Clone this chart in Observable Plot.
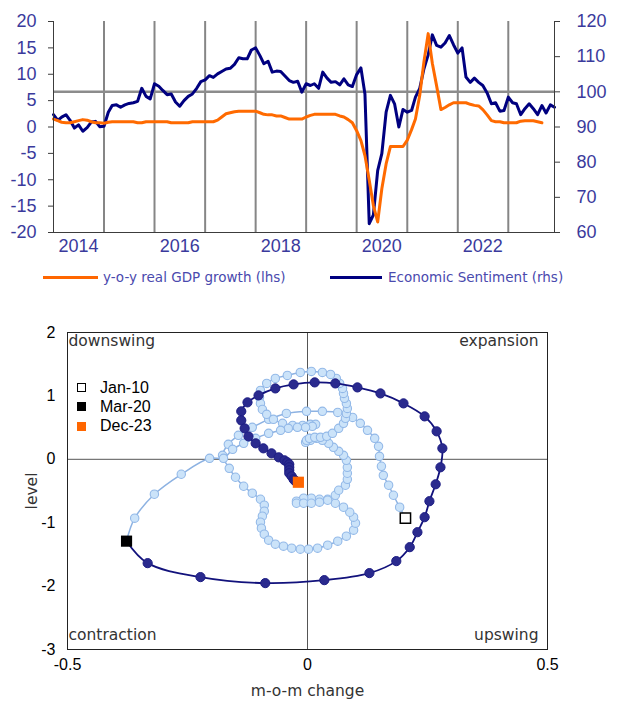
<!DOCTYPE html>
<html>
<head>
<meta charset="utf-8">
<script src="https://cdn.jsdelivr.net/npm/d3@7"></script>
<script src="https://cdn.jsdelivr.net/npm/@observablehq/plot@0.6"></script>
<style>
  html, body { margin: 0; padding: 0; background: #fff; }
  body { width: 617px; height: 702px; overflow: hidden; font-family: "Liberation Sans", Arial, sans-serif; }
  #top { height: 258px; }
  #legend1 { position: relative; height: 36px; font-family: "DejaVu Sans", sans-serif; font-size: 13.5px; color: #4a4aae; }
  #legend1 .sw { position: absolute; height: 3px; top: 18px; }
  #legend1 .lb { position: absolute; top: 10px; line-height: 18px; white-space: nowrap; }
  #bottom { position: relative; height: 408px; }
  #legend2 { position: absolute; left: 77px; top: 84px; font-family: "Liberation Sans", Arial, sans-serif; font-size: 16px; color: #000; }
  #legend2 .row { height: 19.3px; display: flex; align-items: center; }
  #legend2 .sq { width: 9px; height: 9px; box-sizing: border-box; margin-right: 14px; }
</style>
</head>
<body>
<div id="top"></div>
<div id="legend1">
  <span class="sw" style="left:43px;width:55px;background:#ff6600"></span>
  <span class="lb" style="left:103px">y-o-y real GDP growth (lhs)</span>
  <span class="sw" style="left:330px;width:52px;background:#000080"></span>
  <span class="lb" style="left:388px">Economic Sentiment (rhs)</span>
</div>
<div id="bottom">
  <div id="legend2">
    <div class="row"><span class="sq" style="border:1.3px solid #000;background:#fff"></span>Jan-10</div>
    <div class="row"><span class="sq" style="background:#000"></span>Mar-20</div>
    <div class="row"><span class="sq" style="background:#ff6600"></span>Dec-23</div>
  </div>
</div>
<script>
// ---------- Top chart data (monthly, starting Jan 2014) ----------
const startYear = 2014;
const sentiment = [
  93.5, 91.9, 92.8, 93.5, 91.9, 89.7, 90.6, 88.8, 89.8, 91.4, 91.6, 90.1,
  90.2, 94.2, 96.1, 96.3, 95.6, 96.3, 96.7, 96.9, 97.3, 101.0, 98.7, 98.0,
  102.3, 101.6, 100.4, 99.2, 99.4, 97.1, 95.9, 97.5, 98.7, 99.4, 101.0, 102.9,
  103.4, 104.6, 104.1, 105.1, 105.8, 106.5, 106.7, 107.8, 109.7, 109.4, 109.4, 111.9,
  112.5, 110.3, 108.0, 108.7, 105.6, 105.9, 105.8, 104.5, 103.2, 102.7, 103.0, 99.9,
  102.3, 101.8, 102.3, 101.0, 105.6, 103.9, 102.7, 102.9, 102.0, 103.7, 102.0, 101.5,
  104.9, 106.8, 99.4, 62.5, 65.0, 77.6, 82.4, 94.2, 99.0, 96.6, 90.0, 95.0,
  94.2, 94.7, 98.5, 101.0, 106.5, 110.5, 116.2, 113.2, 112.7, 113.9, 116.0, 113.4,
  111.0, 112.5, 104.2, 102.7, 103.9, 102.7, 101.8, 99.7, 96.6, 96.9, 94.5, 94.7,
  98.5, 96.9, 96.6, 93.5, 95.2, 96.6, 95.2, 93.5, 96.1, 94.0, 96.3, 95.6
];
const gdpGrowth = [
  1.5, 1.2, 0.9, 0.8, 0.8, 1.0, 1.2, 1.4, 1.3, 1.0, 0.8, 0.8,
  0.7, 0.9, 1.0, 1.0, 1.0, 1.0, 1.0, 1.0, 0.8, 0.8, 1.0, 1.0,
  1.0, 1.0, 1.0, 1.0, 0.8, 0.8, 0.8, 0.8, 0.8, 1.0, 1.0, 1.0,
  1.0, 1.0, 1.0, 1.3, 1.9, 2.5, 2.7, 2.9, 3.0, 3.0, 3.0, 3.0,
  3.0, 2.7, 2.4, 2.3, 2.3, 2.1, 2.1, 1.8, 1.5, 1.5, 1.5, 1.5,
  1.9, 2.2, 2.4, 2.4, 2.4, 2.4, 2.4, 2.4, 2.1, 1.9, 1.4, 0.8,
  -0.7, -2.6, -5.4, -10.1, -14.9, -18.0, -11.7, -7.0, -3.7, -3.7, -3.7, -3.7,
  -2.5, -0.5, 1.5, 6.0, 12.3, 17.7, 12.1, 7.8, 3.3, 3.7, 4.2, 4.6,
  4.6, 4.6, 4.6, 4.3, 4.1, 4.0, 3.3, 2.3, 1.2, 1.0, 1.0, 0.8,
  0.8, 0.8, 0.8, 1.1, 1.2, 1.2, 1.2, 1.0, 0.8
];
const lhsTicks = [-20, -15, -10, -5, 0, 5, 10, 15, 20];
const rhsTicks = [60, 70, 80, 90, 100, 110, 120];
const yearLabels = [2014, 2016, 2018, 2020, 2022];
const gridYears = [2015, 2016, 2017, 2018, 2019, 2020, 2021, 2022, 2023];
const sentimentReference = 100;

// ---------- Bottom chart data (cycle clock) ----------
// Jan-10 .. Feb-20 (history)
const changeHistory = [
  0.204, 0.192, 0.179, 0.169, 0.158, 0.154, 0.150, 0.148, 0.140, 0.125, 0.110, 0.094,
  0.063, 0.031, -0.002, -0.044, -0.081, -0.115, -0.144, -0.165, -0.177, -0.163, -0.150, -0.133,
  -0.115, -0.098, -0.090, -0.090, -0.094, -0.098, -0.096, -0.090, -0.081, -0.067, -0.050, -0.033,
  -0.015, 0.002, 0.021, 0.042, 0.063, 0.081, 0.096, 0.100, 0.096, 0.088, 0.075, 0.058,
  0.042, 0.025, 0.008, -0.008, -0.023, -0.023, -0.008, 0.008, 0.025, 0.042, 0.058, 0.065,
  0.079, 0.083, 0.083, 0.083, 0.081, 0.075, 0.065, 0.054, 0.044, 0.031, 0.019, 0.006,
  -0.004, -0.002, 0.004, 0.015, 0.027, 0.040, 0.052, 0.065, 0.075, 0.079, 0.081, 0.083,
  0.081, 0.077, 0.075, 0.073, 0.067, 0.060, 0.048, 0.031, 0.008, -0.015, -0.042, -0.067,
  -0.085, -0.098, -0.100, -0.098, -0.094, -0.085, -0.071, -0.052, -0.031, -0.010, 0.006, 0.017,
  0.010, -0.004, -0.021, -0.040, -0.056, -0.081, -0.108, -0.133, -0.156, -0.175, -0.204, -0.263,
  -0.319, -0.360
];
const levelHistory = [
  -0.929, -0.756, -0.567, -0.409, -0.252, -0.110, 0.047, 0.205, 0.331, 0.457, 0.567, 0.661,
  0.740, 0.756, 0.756, 0.724, 0.630, 0.504, 0.378, 0.236, 0.063, -0.142, -0.283, -0.425,
  -0.535, -0.630, -0.724, -0.819, -0.898, -0.992, -1.087, -1.181, -1.276, -1.339, -1.370, -1.402,
  -1.417, -1.417, -1.402, -1.354, -1.291, -1.213, -1.118, -1.008, -0.913, -0.835, -0.756, -0.693,
  -0.630, -0.630, -0.614, -0.614, -0.661, -0.693, -0.693, -0.693, -0.677, -0.646, -0.567, -0.488,
  -0.409, -0.315, -0.220, -0.126, -0.016, 0.063, 0.126, 0.189, 0.252, 0.299, 0.331, 0.299,
  0.268, 0.299, 0.331, 0.346, 0.346, 0.362, 0.409, 0.488, 0.567, 0.646, 0.724, 0.803,
  0.882, 0.961, 1.039, 1.118, 1.197, 1.276, 1.339, 1.370, 1.386, 1.370, 1.323, 1.276,
  1.197, 1.087, 0.976, 0.882, 0.787, 0.709, 0.630, 0.567, 0.535, 0.535, 0.551, 0.551,
  0.520, 0.504, 0.504, 0.488, 0.457, 0.409, 0.331, 0.252, 0.157, 0.016, 0.016, -0.236,
  -0.551, -0.929
];
// Mar-20 .. Dec-23 (recent)
const changeRecent = [
  -0.377, -0.333, -0.223, -0.088, 0.035, 0.129, 0.185, 0.213, 0.229, 0.244, 0.254, 0.267,
  0.277, 0.281, 0.269, 0.244, 0.200, 0.152, 0.104, 0.058, 0.015, -0.029, -0.067, -0.102,
  -0.125, -0.138, -0.138, -0.131, -0.123, -0.108, -0.092, -0.075, -0.060, -0.048, -0.042, -0.038,
  -0.038, -0.038, -0.038, -0.033, -0.029, -0.027, -0.025, -0.022, -0.019
];
const levelRecent = [
  -1.291, -1.638, -1.858, -1.953, -1.906, -1.795, -1.606, -1.386, -1.150, -0.913, -0.661, -0.394,
  -0.126, 0.173, 0.441, 0.677, 0.882, 1.039, 1.134, 1.197, 1.213, 1.181, 1.118, 1.008,
  0.898, 0.756, 0.614, 0.488, 0.362, 0.252, 0.173, 0.094, 0.031, -0.016, -0.047, -0.079,
  -0.126, -0.173, -0.220, -0.268, -0.315, -0.331, -0.346, -0.354, -0.362
];
const levelTicks = [-3, -2, -1, 0, 1, 2];
const changeTicks = [-0.5, 0, 0.5];
const quadrantLabels = ["downswing", "expansion", "contraction", "upswing"];

// ---------- Top chart ----------
const toLhs = v => (v - 90) * 2 / 3;          // rhs (60..120) -> lhs (-20..20)
const toRhs = v => Math.round(v * 1.5 + 90);
const monthDate = i => new Date(Date.UTC(startYear, i, 1));
const sentData = sentiment.map((v, i) => ({date: monthDate(i), v}));
const gdpData = gdpGrowth.map((v, i) => ({date: monthDate(i), v}));
const gridDates = gridYears.map(y => new Date(Date.UTC(y, 0, 1)));
const labelDates = yearLabels.map(y => new Date(Date.UTC(y, 6, 1)));
const axisBlue = "#3a3a9c";

const topChart = Plot.plot({
  width: 617, height: 258,
  marginTop: 21, marginBottom: 26, marginLeft: 53, marginRight: 63,
  style: {fontFamily: "'Liberation Sans', Arial, sans-serif", fontSize: "18px", background: "#fff", overflow: "visible"},
  x: {type: "utc", domain: [monthDate(0), monthDate(sentiment.length - 1)]},
  y: {domain: [lhsTicks[0], lhsTicks[lhsTicks.length - 1]]},
  marks: [
    Plot.ruleX(gridDates, {stroke: "#868686", strokeWidth: 2}),
    Plot.ruleY([toLhs(sentimentReference)], {stroke: "#8c8c8c", strokeWidth: 2.5}),
    Plot.line(sentData, {x: "date", y: d => toLhs(d.v), stroke: "#000080", strokeWidth: 3, strokeLinejoin: "round"}),
    Plot.line(gdpData, {x: "date", y: "v", stroke: "#ff6a00", strokeWidth: 3, strokeLinejoin: "round"}),
    Plot.frame({anchor: "left", stroke: "#3c3c3c"}),
    Plot.frame({anchor: "right", stroke: "#3c3c3c"}),
    Plot.frame({anchor: "bottom", stroke: "#3c3c3c"}),
    Plot.axisY({anchor: "left", ticks: lhsTicks, tickFormat: d => String(d), tickSize: 5, tickPadding: 12, stroke: "#3c3c3c", fill: axisBlue, label: null}),
    Plot.axisY({anchor: "right", ticks: rhsTicks.map(toLhs), tickFormat: d => String(toRhs(d)), tickSize: 5, tickPadding: 17, stroke: "#3c3c3c", fill: axisBlue, label: null}),
    Plot.axisX({ticks: labelDates, tickSize: 0, tickPadding: 7, tickFormat: d => String(d.getUTCFullYear()), fill: axisBlue, label: null})
  ]
});
document.getElementById("top").append(topChart);

// ---------- Bottom chart ----------
const history = changeHistory.map((x, i) => ({x, y: levelHistory[i]}));
const recent = changeRecent.map((x, i) => ({x, y: levelRecent[i]}));
const qFont = {fontFamily: "'DejaVu Sans', sans-serif", fontSize: 15.5, fill: "#333"};

const clock = Plot.plot({
  width: 617, height: 408,
  marginTop: 38, marginBottom: 53, marginLeft: 67, marginRight: 70,
  style: {fontFamily: "'Liberation Sans', Arial, sans-serif", fontSize: "16px", color: "#000", background: "#fff", overflow: "visible"},
  x: {domain: [changeTicks[0], changeTicks[changeTicks.length - 1]]},
  y: {domain: [levelTicks[0], levelTicks[levelTicks.length - 1]]},
  marks: [
    Plot.ruleX([0], {stroke: "#555"}),
    Plot.ruleY([0], {stroke: "#555"}),
    Plot.frame({stroke: "#222"}),
    Plot.axisY({ticks: levelTicks, tickFormat: d => String(d), tickSize: 0, tickPadding: 12, label: null}),
    Plot.axisX({ticks: changeTicks, tickFormat: d => String(d), tickSize: 0, tickPadding: 9, label: null}),
    Plot.line([...history, recent[0]], {x: "x", y: "y", curve: "catmull-rom", stroke: "#8db2e2", strokeWidth: 1.5}),
    Plot.dot(history.slice(1), {x: "x", y: "y", r: 4.2, fill: "#cbe3f9", stroke: "#93b9e8", strokeWidth: 1.1}),
    Plot.line(recent, {x: "x", y: "y", curve: "catmull-rom", stroke: "#12127c", strokeWidth: 1.8}),
    Plot.dot(recent.slice(1, -1), {x: "x", y: "y", r: 4.6, fill: "#2a2a8e", stroke: "#1d1d84", strokeWidth: 1}),
    Plot.dot([history[0]], {x: "x", y: "y", symbol: "square", r: 5.8, fill: "#fff", stroke: "#000", strokeWidth: 1.5}),
    Plot.dot([recent[0]], {x: "x", y: "y", symbol: "square", r: 6.3, fill: "#000", stroke: "none"}),
    Plot.dot([recent[recent.length - 1]], {x: "x", y: "y", symbol: "square", r: 6.3, fill: "#ff6600", stroke: "none"}),
    Plot.text([quadrantLabels[0]], {text: d => d, frameAnchor: "top-left", textAnchor: "start", lineAnchor: "middle", dx: 1, dy: 9, ...qFont}),
    Plot.text([quadrantLabels[1]], {text: d => d, frameAnchor: "top-right", textAnchor: "end", lineAnchor: "middle", dx: -9, dy: 9, ...qFont}),
    Plot.text([quadrantLabels[2]], {text: d => d, frameAnchor: "bottom-left", textAnchor: "start", lineAnchor: "middle", dx: 1, dy: -14, ...qFont}),
    Plot.text([quadrantLabels[3]], {text: d => d, frameAnchor: "bottom-right", textAnchor: "end", lineAnchor: "middle", dx: -9, dy: -14, ...qFont}),
    Plot.text(["level"], {text: d => d, frameAnchor: "left", rotate: -90, dx: -35, textAnchor: "middle", lineAnchor: "middle", ...qFont}),
    Plot.text(["m-o-m change"], {text: d => d, frameAnchor: "bottom", dy: 42, textAnchor: "middle", lineAnchor: "middle", ...qFont})
  ]
});
document.getElementById("bottom").prepend(clock);
</script>
</body>
</html>
